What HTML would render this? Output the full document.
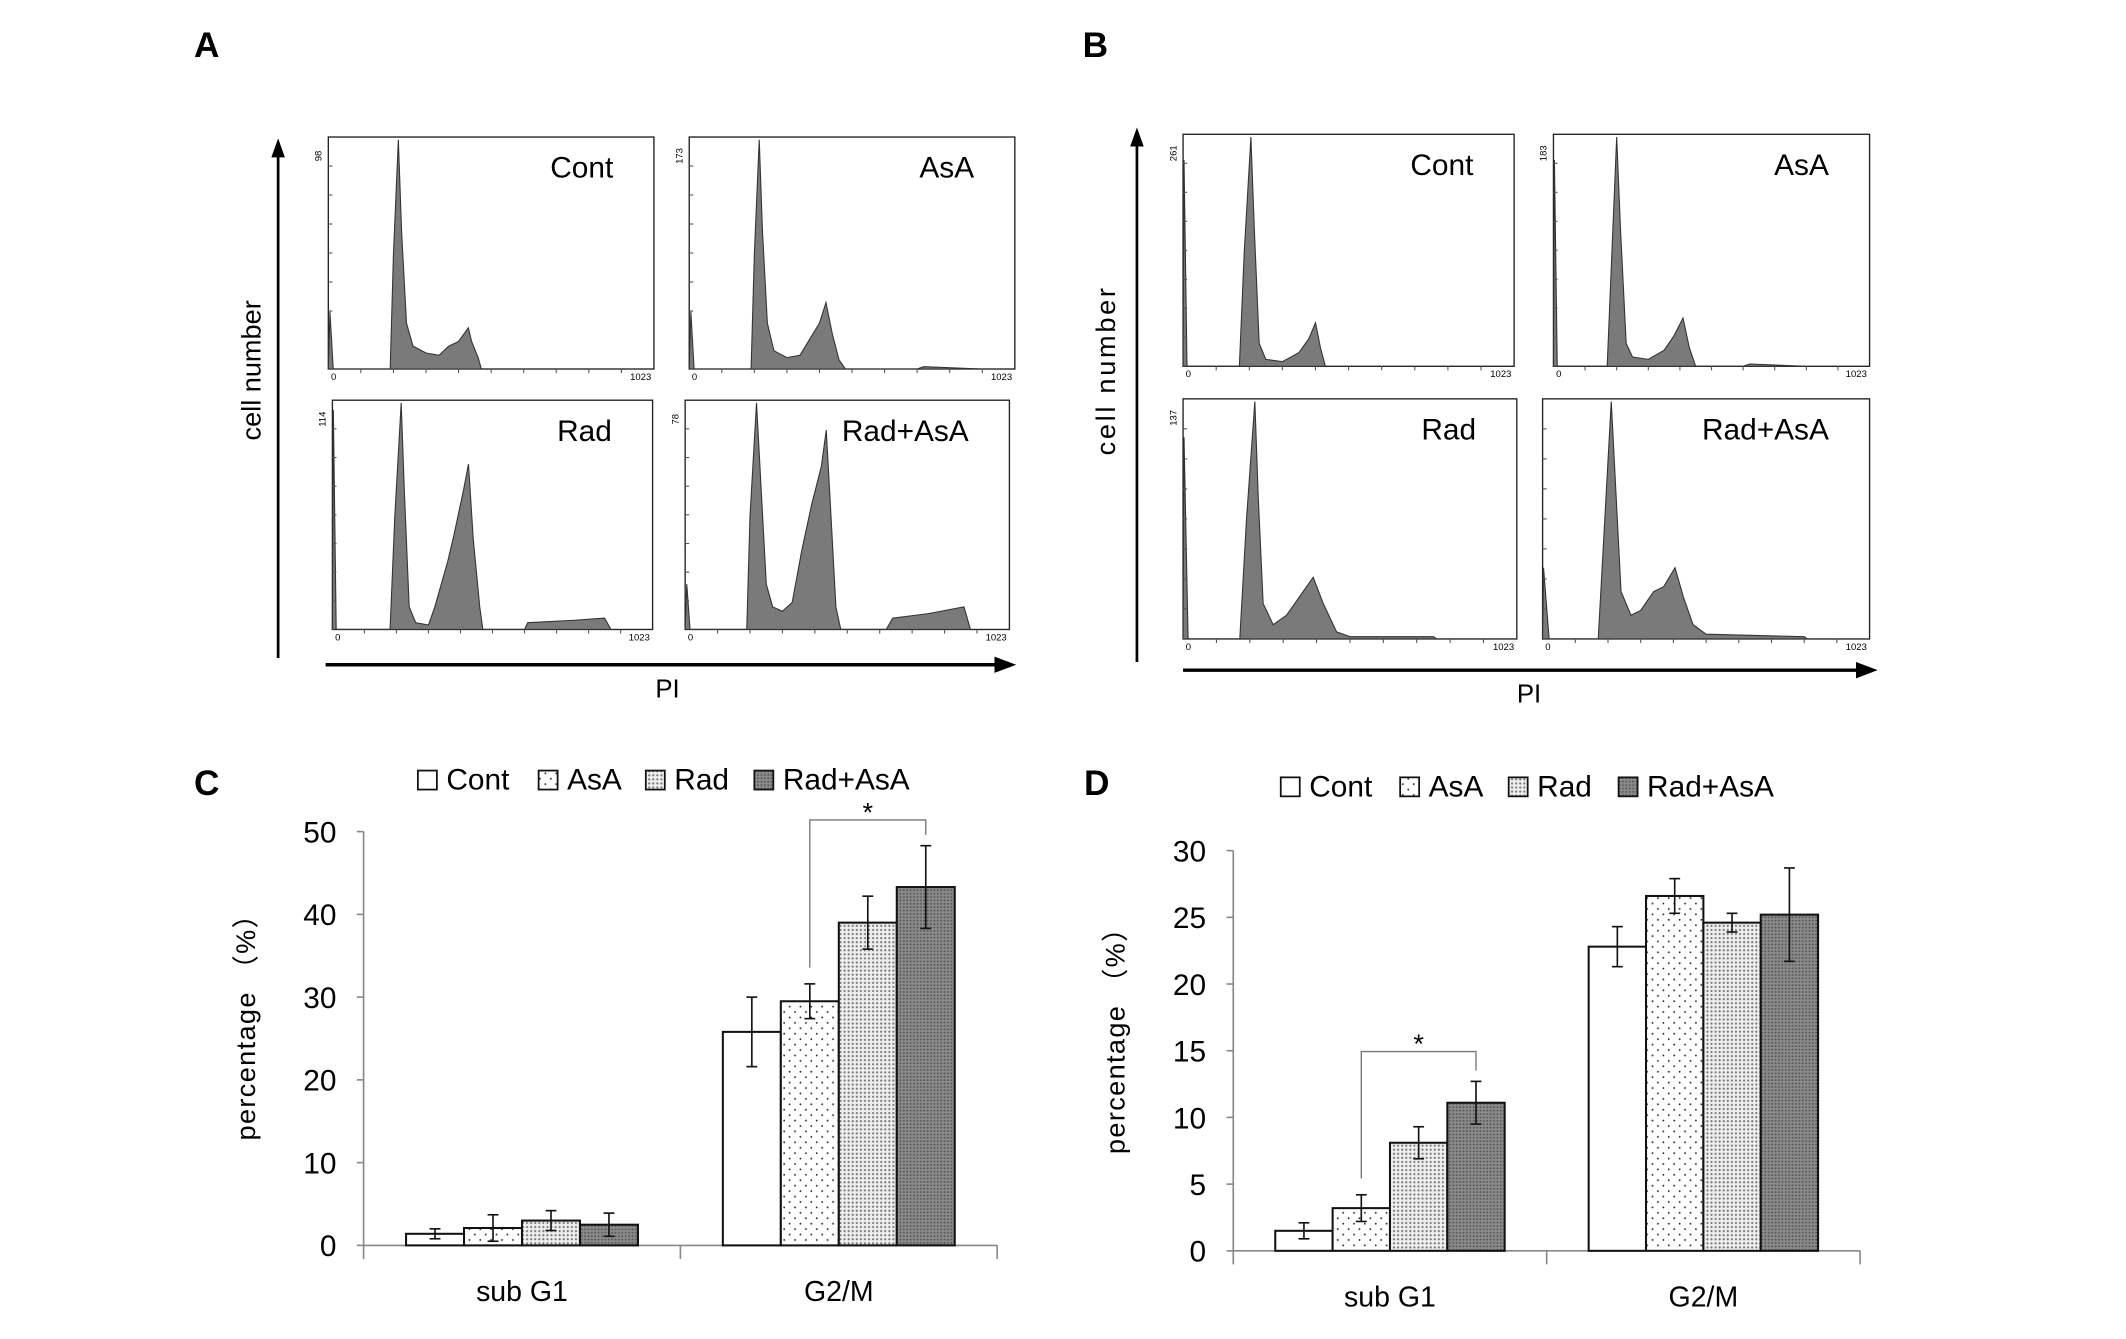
<!DOCTYPE html>
<html><head><meta charset="utf-8"><style>
html,body{margin:0;padding:0;background:#fff;}
svg{display:block;}
text{font-family:"Liberation Sans",sans-serif;}
</style></head><body>
<svg id="fig" width="2126" height="1339" viewBox="0 0 1567 987" preserveAspectRatio="none" xmlns="http://www.w3.org/2000/svg">
<defs>
<pattern id="pAsA" width="8" height="8" patternUnits="userSpaceOnUse"><rect width="8" height="8" fill="#fff"/><circle cx="2" cy="2" r="0.7" fill="#333"/><circle cx="6" cy="6" r="0.7" fill="#333"/></pattern>
<pattern id="pRad" width="3" height="3" patternUnits="userSpaceOnUse"><rect width="3" height="3" fill="#eee"/><circle cx="1.5" cy="1.5" r="0.8" fill="#777"/></pattern>
<pattern id="pRA" width="2.5" height="2.5" patternUnits="userSpaceOnUse"><rect width="2.5" height="2.5" fill="#8a8a8a"/><circle cx="1.2" cy="1.2" r="0.7" fill="#555"/></pattern>
</defs>
<g id="root"></g>
</svg>
<script>
// ---------- Histogram data (normalized [x fraction, y fraction]) ----------
const histContA=[[0,0],[0.005,0.25],[0.015,0],[0.19,0],[0.2,0.5],[0.215,1.0],[0.225,0.6],[0.24,0.2],[0.26,0.1],[0.3,0.07],[0.34,0.06],[0.37,0.1],[0.40,0.12],[0.43,0.18],[0.44,0.12],[0.46,0.05],[0.47,0]];
const histAsaA=[[0,0],[0.005,0.25],[0.015,0],[0.19,0],[0.2,0.5],[0.215,1.0],[0.225,0.6],[0.24,0.2],[0.26,0.08],[0.3,0.05],[0.34,0.06],[0.37,0.13],[0.40,0.2],[0.42,0.29],[0.44,0.15],[0.46,0.04],[0.48,0],[0.7,0],[0.72,0.01],[0.9,0]];
const histRadA=[[0,0],[0.003,0.97],[0.012,0],[0.18,0],[0.195,0.5],[0.215,1.0],[0.225,0.6],[0.24,0.1],[0.26,0.03],[0.3,0.02],[0.32,0.1],[0.36,0.3],[0.38,0.42],[0.41,0.62],[0.425,0.73],[0.44,0.4],[0.46,0.1],[0.47,0],[0.6,0],[0.61,0.03],[0.75,0.04],[0.85,0.05],[0.87,0]];
const histRadAsaA=[[0,0],[0.005,0.2],[0.015,0],[0.19,0],[0.2,0.5],[0.22,1.0],[0.235,0.6],[0.25,0.2],[0.27,0.1],[0.3,0.08],[0.33,0.12],[0.36,0.35],[0.39,0.55],[0.42,0.72],[0.435,0.88],[0.45,0.5],[0.465,0.1],[0.48,0],[0.62,0],[0.64,0.05],[0.75,0.07],[0.86,0.1],[0.88,0]];
const histContB=[[0,0],[0.003,0.9],[0.012,0],[0.17,0],[0.185,0.5],[0.205,1.0],[0.215,0.6],[0.23,0.1],[0.25,0.03],[0.3,0.02],[0.35,0.06],[0.38,0.12],[0.40,0.19],[0.415,0.08],[0.43,0]];
const histAsaB=[[0,0],[0.003,0.9],[0.012,0],[0.17,0],[0.185,0.5],[0.2,1.0],[0.212,0.6],[0.23,0.1],[0.25,0.04],[0.3,0.03],[0.35,0.07],[0.38,0.13],[0.41,0.21],[0.43,0.08],[0.45,0],[0.6,0],[0.62,0.01],[0.8,0]];
const histRadB=[[0,0],[0.003,0.85],[0.015,0],[0.17,0],[0.19,0.5],[0.215,1.0],[0.225,0.6],[0.24,0.15],[0.27,0.06],[0.31,0.1],[0.35,0.18],[0.39,0.26],[0.42,0.15],[0.46,0.03],[0.5,0.01],[0.75,0.01],[0.76,0]];
const histRadAsaB=[[0,0],[0.003,0.3],[0.02,0],[0.17,0],[0.19,0.5],[0.21,1.0],[0.225,0.6],[0.24,0.2],[0.27,0.1],[0.3,0.12],[0.34,0.2],[0.37,0.22],[0.405,0.3],[0.43,0.18],[0.46,0.06],[0.5,0.02],[0.8,0.01],[0.81,0]];

// ---------- Bar chart data ----------
const categories=["sub G1","G2/M"];
const seriesNames=["Cont","AsA","Rad","Rad+AsA"];
const cValues=[[1.4,25.8],[2.1,29.5],[3.0,39.0],[2.5,43.3]];
const cErrors=[[0.6,4.2],[1.6,2.1],[1.2,3.2],[1.4,5.0]];
const cTicks=[0,10,20,30,40,50];
const dValues=[[1.5,22.8],[3.2,26.6],[8.1,24.6],[11.1,25.2]];
const dErrors=[[0.6,1.5],[1.0,1.3],[1.2,0.7],[1.6,3.5]];
const dTicks=[0,5,10,15,20,25,30];

const NS="http://www.w3.org/2000/svg";
const root=document.getElementById('root');
function mk(tag,attrs,parent,txt){const e=document.createElementNS(NS,tag);for(const k in attrs)e.setAttribute(k,attrs[k]);if(txt!==undefined)e.textContent=txt;(parent||root).appendChild(e);return e;}

function label(x,y,t,name,size){
  const e=mk('text',{x:x,y:y,'font-size':size||26,'font-weight':'bold','font-family':'Liberation Serif, serif'},root,t);
  
  
}

function hist(x0,y0,x1,y1,pts,title,ymax,name){
  const g=mk('g',{});
  
  
  const w=x1-x0,h=y1-y0;
  mk('rect',{x:x0,y:y0,width:w,height:h,fill:'#fff',stroke:'#222','stroke-width':1},g);
  const d=pts.map((p,i)=>(i?'L':'M')+(x0+p[0]*w).toFixed(1)+','+(y1-p[1]*(h-2)).toFixed(1)).join(' ')+' Z';
  const p=mk('path',{d:d,fill:'#7a7a7a',stroke:'#333','stroke-width':0.8},g);
  
  
  for(let i=1;i<10;i++){mk('line',{x1:x0+i*w/10,y1:y1,x2:x0+i*w/10,y2:y1+3,stroke:'#555','stroke-width':0.8},g);}
  for(let i=1;i<8;i++){mk('line',{x1:x0,y1:y1-i*h/8,x2:x0+3,y2:y1-i*h/8,stroke:'#555','stroke-width':0.8},g);}
  mk('text',{x:x0+2,y:y1+8,'font-size':7},g,'0');
  mk('text',{x:x1-2,y:y1+8,'font-size':7,'text-anchor':'end'},g,'1023');
  mk('text',{x:0,y:0,'font-size':7,transform:`translate(${x0-5},${y0+14}) rotate(-90)`,'text-anchor':'middle'},g,ymax);
  const t=mk('text',{x:x1-30,y:y0+30,'font-size':22,'text-anchor':'end'},g,title);
  
  
}

function arrowV(x,yb,yt,name){
  const g=mk('g',{});
  mk('line',{x1:x,y1:yb,x2:x,y2:yt+12,stroke:'#000','stroke-width':2},g);
  mk('polygon',{points:`${x-5},${yt+14} ${x+5},${yt+14} ${x},${yt}`,fill:'#000'},g);
}
function arrowH(xl,xr,y,name){
  const g=mk('g',{});
  mk('line',{x1:xl,y1:y,x2:xr-14,y2:y,stroke:'#000','stroke-width':2.5},g);
  mk('polygon',{points:`${xr-16},${y-6} ${xr-16},${y+6} ${xr},${y}`,fill:'#000'},g);
}
function rotText(x,y,t,size,name,spacing){
  const e=mk('text',{x:0,y:0,'font-size':size,transform:`translate(${x},${y}) rotate(-90)`,'text-anchor':'middle','letter-spacing':spacing||0},root,t);
  
}

// Panel A
label(143,42,'A','panel-a-label');
arrowV(205,485,102,'y-axis-arrow-a');
arrowH(240,749,490,'x-axis-arrow-a');
rotText(192,273,'cell number',20,'y-axis-title-a');
{const e=mk('text',{x:492,y:514,'font-size':19,'text-anchor':'middle','font-family':'Liberation Mono, monospace'},root,'PI');}
hist(242,101,482,272,histContA,'Cont','98','histogram-a-cont');
hist(508,101,748,272,histAsaA,'AsA','173','histogram-a-asa');
hist(245,295,481,464,histRadA,'Rad','114','histogram-a-rad');
hist(505,295,744,464,histRadAsaA,'Rad+AsA','78','histogram-a-rad-asa');

// Panel B
label(798,42,'B','panel-b-label');
arrowV(838,488,94,'y-axis-arrow-b');
arrowH(872,1384,494,'x-axis-arrow-b');
rotText(822,273,'cell number',20,'y-axis-title-b',2);
{const e=mk('text',{x:1127,y:518,'font-size':19,'text-anchor':'middle','font-family':'Liberation Mono, monospace'},root,'PI');}
hist(872,99,1116,270,histContB,'Cont','261','histogram-b-cont');
hist(1145,99,1378,270,histAsaB,'AsA','183','histogram-b-asa');
hist(872,294,1118,471,histRadB,'Rad','137','histogram-b-rad');
hist(1137,294,1378,471,histRadAsaB,'Rad+AsA','','histogram-b-rad-asa');

// Bar charts
const fills=['#fff','url(#pAsA)','url(#pRad)','url(#pRA)'];
function barChart(o){
  const g=mk('g',{});
  const ymax=o.ticks[o.ticks.length-1];
  const yS=v=>o.y0-(v/ymax)*(o.y0-o.yTop);
  const catW=(o.x1-o.x0)/categories.length;
  mk('line',{x1:o.x0,y1:o.yTop,x2:o.x0,y2:o.y0+10,stroke:'#888','stroke-width':1.2},g);
  mk('line',{x1:o.x0,y1:o.y0,x2:o.x1,y2:o.y0,stroke:'#888','stroke-width':1.2},g);
  o.ticks.forEach(t=>{
    mk('line',{x1:o.x0-5,y1:yS(t),x2:o.x0,y2:yS(t),stroke:'#888','stroke-width':1.2},g);
    const tl=mk('text',{x:o.x0-20,y:yS(t)+8,'font-size':22,'text-anchor':'end'},g,String(t));
    
  });
  categories.forEach((c,ci)=>{
    mk('line',{x1:o.x0+(ci+1)*catW,y1:o.y0,x2:o.x0+(ci+1)*catW,y2:o.y0+10,stroke:'#888','stroke-width':1.2},g);
    const cl=mk('text',{x:o.x0+(ci+0.5)*catW,y:o.y0+41,'font-size':21,'text-anchor':'middle'},g,c);
    
  });
  const bw=catW*0.183;
  o.centers=[];
  seriesNames.forEach((s,si)=>{
    o.centers[si]=[];
    categories.forEach((c,ci)=>{
      const cx=o.x0+(ci+0.5)*catW+(si-1.5)*bw;
      o.centers[si][ci]=cx;
      const v=o.values[si][ci],e=o.errors[si][ci];
      const r=mk('rect',{x:cx-bw/2,y:yS(v),width:bw,height:o.y0-yS(v),fill:fills[si],stroke:'#111','stroke-width':1.5},g);
      
      
      mk('line',{x1:cx,y1:yS(v+e),x2:cx,y2:yS(v-e),stroke:'#111','stroke-width':1.2},g);
      mk('line',{x1:cx-4,y1:yS(v+e),x2:cx+4,y2:yS(v+e),stroke:'#111','stroke-width':1.2},g);
      mk('line',{x1:cx-4,y1:yS(v-e),x2:cx+4,y2:yS(v-e),stroke:'#111','stroke-width':1.2},g);
    });
  });
  // significance bracket
  const ci=o.sigCat,a=o.centers[1][ci],b=o.centers[3][ci];
  const yA=yS(o.values[1][ci]+o.errors[1][ci])-12, yB=yS(o.values[3][ci]+o.errors[3][ci])-8, yT=Math.min(yA,yB)-o.sigGap;
  const br=mk('polyline',{points:`${a},${yA} ${a},${yT} ${b},${yT} ${b},${yB}`,fill:'none',stroke:'#777','stroke-width':1},g);
  
  const st=mk('text',{x:(a+b)/2,y:yT+1,'font-size':20,'text-anchor':'middle'},g,'*');
  
  // legend
  const lg=mk('g',{},g);
  seriesNames.forEach((s,si)=>{
    const lx=o.legX[si];
    const e=mk('g',{},lg);
    mk('rect',{x:lx,y:o.legY-14,width:14,height:14,fill:fills[si],stroke:'#111','stroke-width':1.3},e);
    mk('text',{x:lx+21,y:o.legY,'font-size':22},e,s);
  });
  rotText(o.x0-80,o.yLabel,'percentage （%）',20,'y-axis-title',1);
}
label(143,586,'C','panel-c-label');
barChart({name:'bar-chart-c',x0:268,x1:735,y0:918,yTop:613,values:cValues,errors:cErrors,ticks:cTicks,sigCat:1,sigGap:11,legX:[308,397,476,556],legY:582,yLabel:752});
label(799,586,'D','panel-d-label');
barChart({name:'bar-chart-d',x0:909,x1:1371,y0:922,yTop:627,values:dValues,errors:dErrors,ticks:dTicks,sigCat:0,sigGap:14,legX:[944,1032,1112,1193],legY:587,yLabel:762});
</script>
</body></html>
